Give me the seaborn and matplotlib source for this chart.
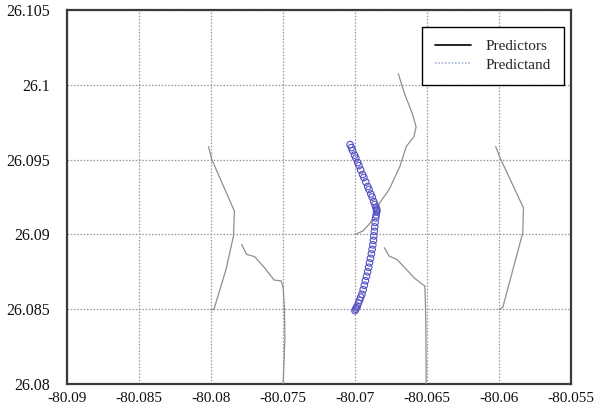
import numpy as np
import pandas as pd
import matplotlib
matplotlib.use("Agg")
import matplotlib.pyplot as plt
from matplotlib.lines import Line2D
import seaborn as sns

# Predictor tracks (longitude, latitude)
pred1_lon = [-80.08016, -80.07993, -80.07836, -80.07843, -80.07894, -80.07978, -80.08000]
pred1_lat = [26.09587, 26.09500, 26.09155, 26.08989, 26.08767, 26.08500, 26.08496]

pred2_lon = [-80.07786, -80.07752, -80.07696, -80.07628, -80.07561, -80.07511,
             -80.07498, -80.07489, -80.07486, -80.07498]
pred2_lat = [26.08933, 26.08867, 26.08851, 26.08778, 26.08695, 26.08689,
             26.08644, 26.08500, 26.08311, 26.08000]

pred3_lon = [-80.06699, -80.06655, -80.06602, -80.06576, -80.06591, -80.06644, -80.06688,
             -80.06763, -80.06828, -80.06860, -80.06893, -80.06946, -80.07000]
pred3_lat = [26.10073, 26.09938, 26.09807, 26.09719, 26.09653, 26.09588, 26.09455,
             26.09300, 26.09211, 26.09144, 26.09077, 26.09022, 26.09000]

pred4_lon = [-80.06796, -80.06763, -80.06709, -80.06644, -80.06591, -80.06547,
             -80.06515, -80.06511, -80.06508, -80.06506]
pred4_lat = [26.08911, 26.08855, 26.08833, 26.08767, 26.08711, 26.08677,
             26.08655, 26.08522, 26.08380, 26.08000]

pred5_lon = [-80.06024, -80.05993, -80.05831, -80.05836, -80.05975, -80.06000]
pred5_lat = [26.09587, 26.09511, 26.09177, 26.09011, 26.08511, 26.08500]

# Predictand positions
target_lon = [-80.07034, -80.07025, -80.07016, -80.07003, -80.06994, -80.06981, -80.06972,
              -80.06960, -80.06947, -80.06938, -80.06925, -80.06912, -80.06903, -80.06890,
              -80.06881, -80.06870, -80.06862, -80.06855, -80.06850, -80.06848, -80.06850,
              -80.06853, -80.06856, -80.06860, -80.06863, -80.06866, -80.06869, -80.06872,
              -80.06876, -80.06881, -80.06886, -80.06892, -80.06899, -80.06905, -80.06912,
              -80.06920, -80.06928, -80.06935, -80.06943, -80.06952, -80.06960, -80.06968,
              -80.06976, -80.06984, -80.06990, -80.06995, -80.07000]
target_lat = [26.0960, 26.0958, 26.0956, 26.0953, 26.0951, 26.0948, 26.0946,
              26.0943, 26.0940, 26.0938, 26.0935, 26.0932, 26.0930, 26.0927,
              26.0925, 26.0922, 26.0920, 26.0918, 26.0917, 26.0916, 26.0915,
              26.0913, 26.0911, 26.0908, 26.0905, 26.0902, 26.0899, 26.0896,
              26.0893, 26.0890, 26.0887, 26.0884, 26.0881, 26.0878, 26.0875,
              26.0872, 26.0869, 26.0866, 26.0863, 26.0860, 26.0858, 26.0856,
              26.0854, 26.0852, 26.0851, 26.0850, 26.0849]

x_ticks = [-80.09, -80.085, -80.08, -80.075, -80.07, -80.065, -80.06, -80.055]
x_labels = ["-80.09", "-80.085", "-80.08", "-80.075", "-80.07", "-80.065", "-80.06", "-80.055"]
y_ticks = [26.08, 26.085, 26.09, 26.095, 26.1, 26.105]
y_labels = ["26.08", "26.085", "26.09", "26.095", "26.1", "26.105"]

tracks = [(pred1_lon, pred1_lat), (pred2_lon, pred2_lat), (pred3_lon, pred3_lat),
          (pred4_lon, pred4_lat), (pred5_lon, pred5_lat)]
pred_df = pd.concat(
    [pd.DataFrame({"lon": lo, "lat": la, "track": i}) for i, (lo, la) in enumerate(tracks)],
    ignore_index=True)
target_df = pd.DataFrame({"lon": target_lon, "lat": target_lat})

sns.set_style("white")
plt.rcParams["font.family"] = ["Liberation Serif", "DejaVu Serif"]

fig = plt.figure(figsize=(5.95, 4.11), dpi=100)
ax = fig.add_axes([0.112, 0.0657, 0.848, 0.91])

sns.lineplot(data=pred_df, x="lon", y="lat", units="track", estimator=None, sort=False,
             color="#938d8d", linewidth=0.9, legend=False, ax=ax, zorder=3)
sns.scatterplot(data=target_df, x="lon", y="lat", marker="o", s=22,
                facecolor="none", edgecolor="#5450c4", linewidth=0.8,
                legend=False, ax=ax, zorder=4)

ax.set_xlim(-80.09, -80.055)
ax.set_ylim(26.08, 26.105)
ax.set_xticks(x_ticks)
ax.set_xticklabels(x_labels)
ax.set_yticks(y_ticks)
ax.set_yticklabels(y_labels)
ax.tick_params(axis="x", length=0, labelsize=11, colors="#111111", pad=6)
ax.tick_params(axis="y", length=0, labelsize=11.5, colors="#111111", pad=12)
ax.set_xlabel("")
ax.set_ylabel("")
ax.grid(True, color="#959595", linestyle=(0, (1.2, 1.4)), linewidth=0.9)
for side in ax.spines.values():
    side.set_color("#3a3a3a")
    side.set_linewidth(1.6)

handles = [Line2D([], [], color="black", linewidth=1.2),
           Line2D([], [], color="#a8b4dc", linewidth=1.2, linestyle=(0, (1, 1)))]
leg = ax.legend(handles, ["Predictors", "Predictand"], loc="upper right",
                bbox_to_anchor=(0.986, 0.955), borderaxespad=0, fontsize=11,
                frameon=True, fancybox=False, edgecolor="black", framealpha=1,
                handlelength=2.3, borderpad=0.85, labelspacing=0.3, handletextpad=1.0)
leg.get_frame().set_linewidth(1.0)

fig.savefig("out.png", dpi=100)
